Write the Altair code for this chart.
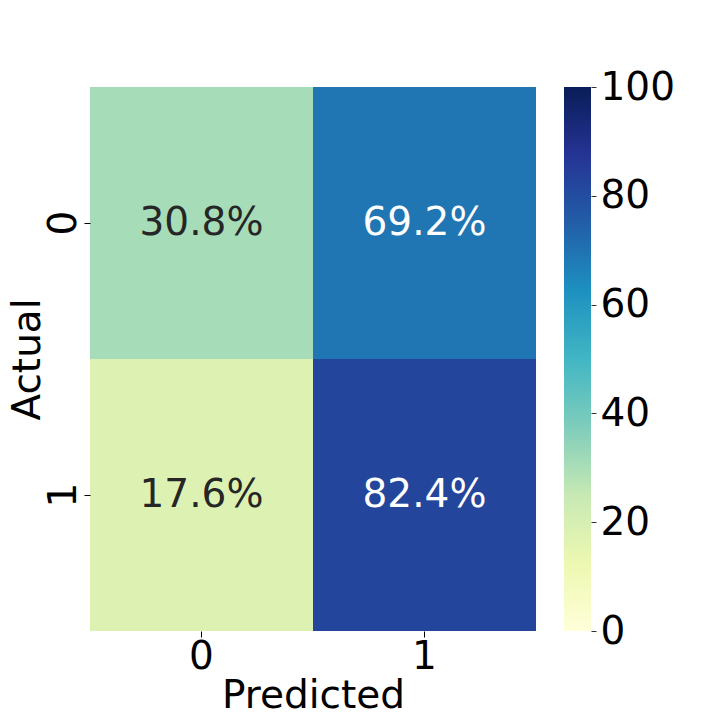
import altair as alt
import pandas as pd

actual = ["0", "0", "1", "1"]
predicted = ["0", "1", "0", "1"]
values = [30.8, 69.2, 17.6, 82.4]
labels = ["30.8%", "69.2%", "17.6%", "82.4%"]

ylgnbu = ["#ffffd9", "#edf8b1", "#c7e9b4", "#7fcdbb", "#41b6c4",
          "#1d91c0", "#225ea8", "#253494", "#081d58"]
stops = [0, 12.5, 25, 37.5, 50, 62.5, 75, 87.5, 100]
cbar_ticks = [0, 20, 40, 60, 80, 100]

df = pd.DataFrame({"Actual": actual, "Predicted": predicted, "value": values, "label": labels})
cb = pd.DataFrame({"lo": [stops[0]], "hi": [stops[-1]]})

FONT = "DejaVu Sans"
FS = 39

base = alt.Chart(df)

heat = base.mark_rect().encode(
    x=alt.X("Predicted:O", sort=["0", "1"],
            axis=alt.Axis(title="Predicted", labelAngle=0, labelFontSize=FS, titleFontSize=FS,
                          labelFont=FONT, titleFont=FONT, labelColor="black", titleColor="black",
                          titleFontWeight="normal", tickSize=6, tickColor="black", domain=False,
                          labelPadding=0, titlePadding=0)),
    y=alt.Y("Actual:O", sort=["0", "1"],
            axis=alt.Axis(title="Actual", labelAngle=270, labelAlign="center", labelBaseline="bottom",
                          labelFontSize=FS, titleFontSize=FS, labelFont=FONT, titleFont=FONT,
                          labelColor="black", titleColor="black", titleFontWeight="normal",
                          tickSize=6, tickColor="black", domain=False, labelPadding=1, titlePadding=-3)),
    color=alt.Color("value:Q",
                    scale=alt.Scale(domain=stops, range=ylgnbu, interpolate="rgb"),
                    legend=None),
)

text = base.mark_text(fontSize=FS, font=FONT).encode(
    x=alt.X("Predicted:O", sort=["0", "1"]),
    y=alt.Y("Actual:O", sort=["0", "1"]),
    text="label:N",
    color=alt.condition(alt.datum.value > 50, alt.value("white"), alt.value("#262626")),
)

heatmap = (heat + text).properties(width=446, height=544)

grad = alt.Gradient(
    gradient="linear",
    stops=[alt.GradientStop(color=c, offset=s / 100) for c, s in zip(ylgnbu, stops)],
    x1=0, x2=0, y1=1, y2=0,
)

colorbar = alt.Chart(cb).mark_rect(fill=grad).encode(
    y=alt.Y("lo:Q", scale=alt.Scale(domain=[0, 100], nice=False, zero=False),
            axis=alt.Axis(orient="right", title=None, values=cbar_ticks, labelFontSize=FS,
                          labelFont=FONT, labelColor="black", tickSize=5, tickColor="#333333",
                          domain=False, grid=False, labelPadding=4)),
    y2="hi:Q",
).properties(width=27, height=544)

chart = alt.hconcat(heatmap, colorbar, spacing=28).properties(
    padding={"left": 0, "top": 60, "right": 0, "bottom": 0},
).configure_view(stroke=None).configure_scale(bandPaddingInner=0, bandPaddingOuter=0)

chart.save("out.html", embed_options={"renderer": "svg", "actions": False})
